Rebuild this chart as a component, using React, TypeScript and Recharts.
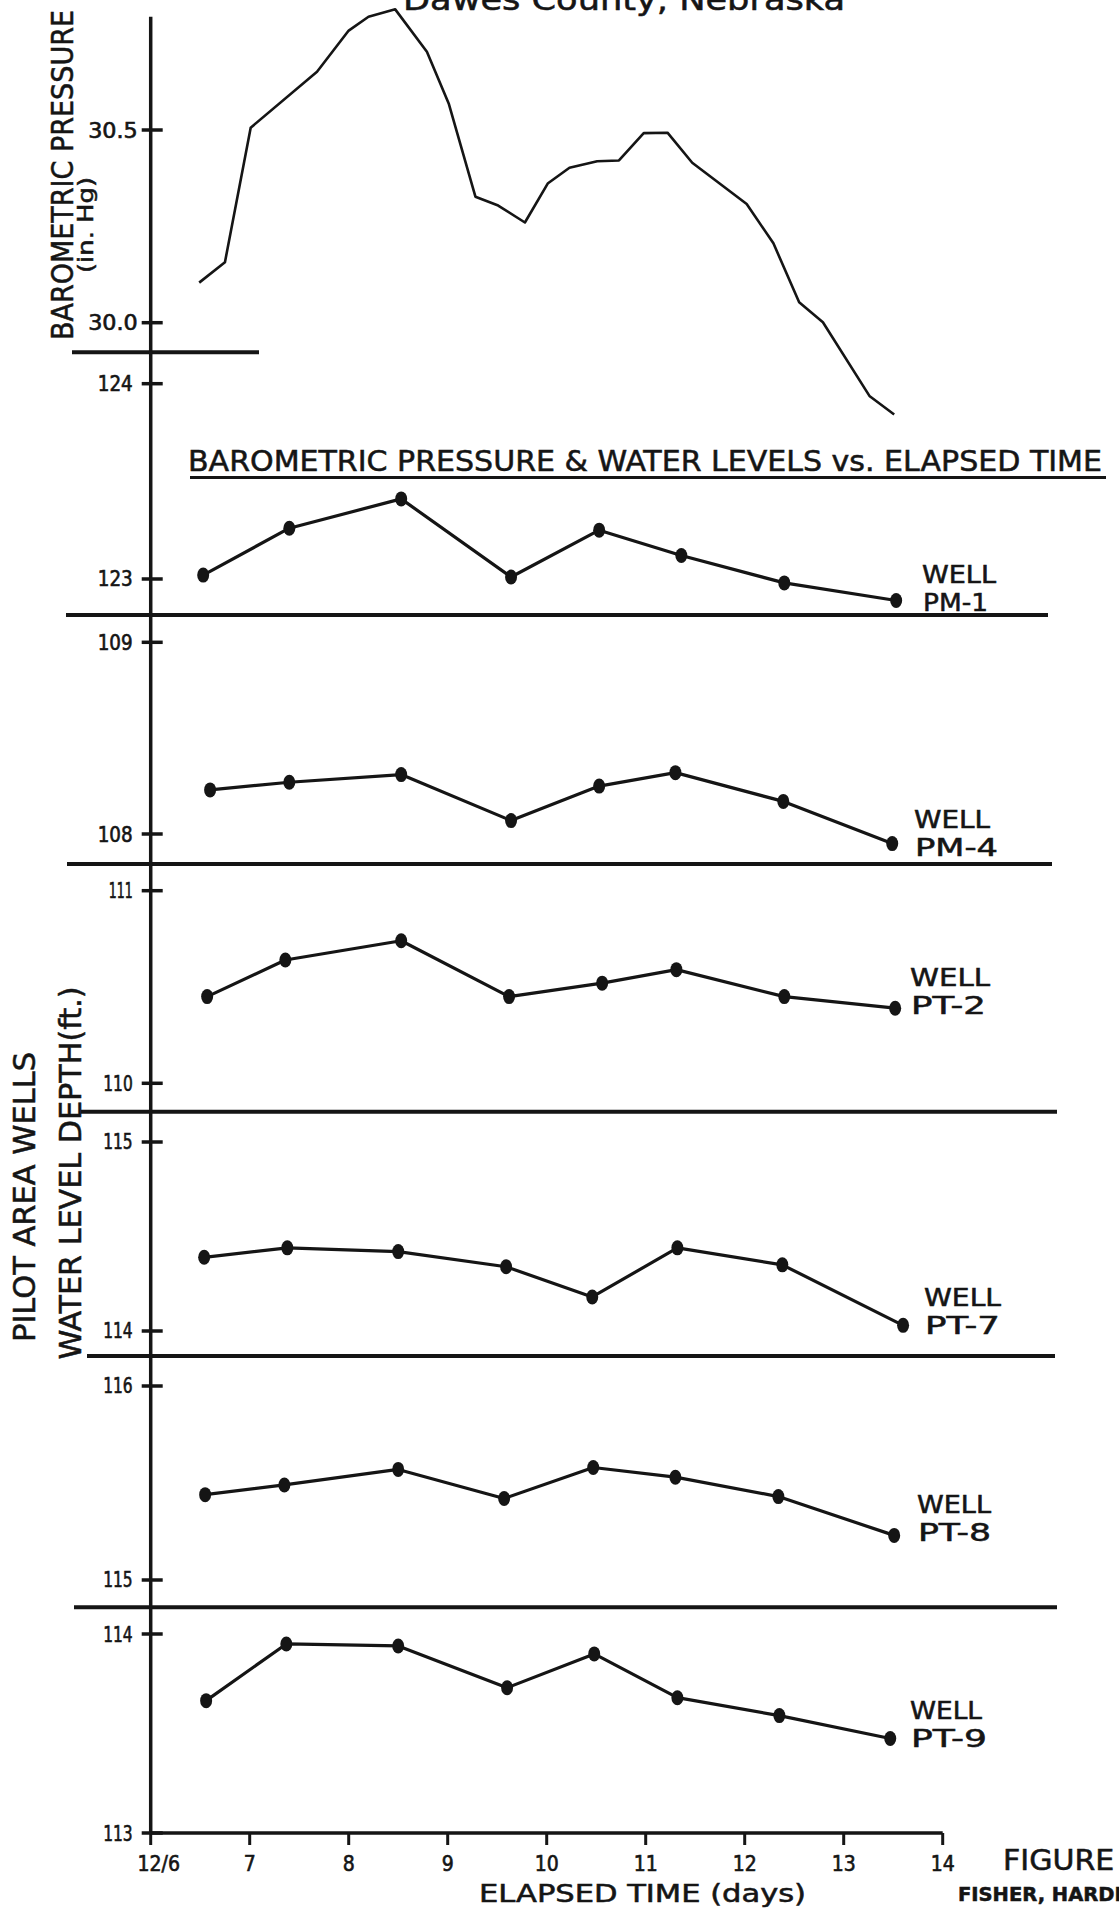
import React from 'react'
import { LineChart, Line, XAxis, YAxis, ReferenceLine } from 'recharts'

// elapsed time is in days, 12/6 = day 6
const dayTicks = [6, 7, 8, 9, 10, 11, 12, 13, 14]

// barometric pressure (in. Hg)
const pressureDays = [6.49, 6.75, 7.01, 7.68, 8.0, 8.2, 8.47, 8.79, 9.01, 9.28, 9.51, 9.78, 10.01, 10.23, 10.51, 10.73, 10.98, 11.22, 11.47, 12.02, 12.29, 12.55, 12.79, 13.26, 13.51]
const pressureInHg = [30.104, 30.157, 30.506, 30.651, 30.758, 30.794, 30.813, 30.703, 30.569, 30.327, 30.304, 30.26, 30.361, 30.402, 30.419, 30.421, 30.492, 30.493, 30.415, 30.308, 30.206, 30.053, 30.001, 29.81, 29.762]

// water level depth (ft) per well
const pm1Days = [6.53, 7.4, 8.53, 9.64, 10.53, 11.36, 12.4, 13.53]
const pm1Depth = [123.02, 123.26, 123.41, 123.01, 123.25, 123.12, 122.98, 122.89]
const pm4Days = [6.6, 7.4, 8.53, 9.64, 10.53, 11.3, 12.39, 13.49]
const pm4Depth = [108.23, 108.27, 108.31, 108.07, 108.25, 108.32, 108.17, 107.95]
const pt2Days = [6.57, 7.36, 8.53, 9.62, 10.56, 11.31, 12.4, 13.52]
const pt2Depth = [110.45, 110.64, 110.74, 110.45, 110.52, 110.59, 110.45, 110.39]
const pt7Days = [6.54, 7.38, 8.5, 9.59, 10.46, 11.32, 12.38, 13.6]
const pt7Depth = [114.39, 114.44, 114.42, 114.34, 114.18, 114.44, 114.35, 114.03]
const pt8Days = [6.55, 7.35, 8.5, 9.57, 10.47, 11.3, 12.34, 13.51]
const pt8Depth = [115.44, 115.49, 115.57, 115.42, 115.58, 115.53, 115.43, 115.23]
const pt9Days = [6.56, 7.37, 8.5, 9.6, 10.48, 11.32, 12.35, 13.47]
const pt9Depth = [113.665, 113.95, 113.94, 113.73, 113.9, 113.68, 113.59, 113.475]

const INK = '#151515'
const FONT = "'DejaVu Sans Condensed', 'DejaVu Sans', sans-serif"
const NUM_FONT = "'DejaVu Sans Condensed', 'DejaVu Sans', sans-serif"
const PAGE_W = 1119
const AXIS_X = 150.7
const PLOT_R = 942.7
const Y_AXIS_W = 60
const X_AXIS_H = 76

type Panel = {
  key: string
  days: number[]
  values: number[]
  ticks: [number, number]
  top: number
  bottom: number
  hiY: number
  loY: number
  well?: { name: string; x: number; y: number; w1: number; w2: number }
}

const panels: Panel[] = [
  { key: 'pressure', days: pressureDays, values: pressureInHg, ticks: [30.0, 30.5], top: 0, bottom: 440, hiY: 130, loY: 322.7 },
  { key: 'pm1', days: pm1Days, values: pm1Depth, ticks: [123, 124], top: 352.3, bottom: 615, hiY: 384, loY: 579.3,
    well: { name: 'PM-1', x: 922, y: 583, w1: 74, w2: 65 } },
  { key: 'pm4', days: pm4Days, values: pm4Depth, ticks: [108, 109], top: 615, bottom: 864, hiY: 642.3, loY: 834,
    well: { name: 'PM-4', x: 914, y: 828, w1: 76, w2: 83 } },
  { key: 'pt2', days: pt2Days, values: pt2Depth, ticks: [110, 111], top: 864, bottom: 1111.7, hiY: 890.7, loY: 1083.3,
    well: { name: 'PT-2', x: 910, y: 986, w1: 80, w2: 75 } },
  { key: 'pt7', days: pt7Days, values: pt7Depth, ticks: [114, 115], top: 1111.7, bottom: 1356, hiY: 1141.7, loY: 1330.7,
    well: { name: 'PT-7', x: 924, y: 1306, w1: 77, w2: 75 } },
  { key: 'pt8', days: pt8Days, values: pt8Depth, ticks: [115, 116], top: 1356, bottom: 1607.3, hiY: 1386, loY: 1580,
    well: { name: 'PT-8', x: 917, y: 1513, w1: 74, w2: 73 } },
  { key: 'pt9', days: pt9Days, values: pt9Depth, ticks: [113, 114], top: 1607.3, bottom: 1833.3, hiY: 1634.3, loY: 1833.3,
    well: { name: 'PT-9', x: 910, y: 1719, w1: 72, w2: 76 } },
]

const separators = [
  { y: 352.3, x1: 72, x2: 259 },
  { y: 615, x1: 66, x2: 1048 },
  { y: 864, x1: 67, x2: 1052 },
  { y: 1111.7, x1: 81, x2: 1057 },
  { y: 1356, x1: 87, x2: 1055 },
  { y: 1607.3, x1: 74, x2: 1057 },
]

const charW = (c: string) => (c === '1' ? 8 : c === '.' ? 9 : 13.5)

function YTick(props: any) {
  const { x, y, payload, decimals } = props
  const label = decimals ? Number(payload.value).toFixed(1) : String(payload.value)
  const w = label.split('').reduce((s: number, c: string) => s + charW(c), 0)
  return (
    <g>
      <line x1={x - 9} x2={x + 12} y1={y} y2={y} stroke={INK} strokeWidth={3.5} />
      <text
        x={x - (decimals ? 13 : 18)}
        y={y + 7.5}
        textAnchor="end"
        fontFamily={NUM_FONT}
        fontSize={21}
        fill={INK}
        stroke={INK}
        strokeWidth={0.6}
        textLength={w}
        lengthAdjust="spacingAndGlyphs"
      >
        {label}
      </text>
    </g>
  )
}

function XTick(props: any) {
  const { x, y, payload } = props
  const v = payload.value
  const label = v === 6 ? '12/6' : String(v)
  return (
    <text
      x={x + (v === 6 ? 8 : 0)}
      y={y + 24}
      textAnchor="middle"
      fontFamily={NUM_FONT}
      fontSize={21}
      fill={INK}
      stroke={INK}
      strokeWidth={0.6}
    >
      {label}
    </text>
  )
}

const wellDot = (p: any) => <ellipse key={`dot-${p.index}`} cx={p.cx} cy={p.cy} rx={6} ry={7.5} fill={INK} />

function PanelChart({ p, last }: { p: Panel; last: boolean }) {
  const rows = p.days.map((day, i) => ({ day, value: p.values[i] }))
  const scale = (p.loY - p.hiY) / (p.ticks[1] - p.ticks[0])
  const domHi = p.ticks[1] + (p.hiY - p.top) / scale
  const domLo = p.ticks[0] - (p.bottom - p.loY) / scale
  const valueAt = (px: number) => domHi - (px - p.top) / scale
  const isPressure = p.key === 'pressure'
  const plotH = p.bottom - p.top
  const h = plotH + (last ? X_AXIS_H : 0)

  return (
    <div style={{ position: 'absolute', left: 0, top: p.top, width: PAGE_W, height: h }}>
      <LineChart
        width={PAGE_W}
        height={h}
        data={rows}
        margin={{ top: 0, right: PAGE_W - PLOT_R, bottom: 0, left: AXIS_X - Y_AXIS_W }}
      >
        <XAxis
          type="number"
          dataKey="day"
          domain={[6, 14]}
          ticks={dayTicks}
          interval={0}
          hide={!last}
          height={last ? X_AXIS_H : 0}
          axisLine={{ stroke: INK, strokeWidth: 3.5 }}
          tickLine={{ stroke: INK, strokeWidth: 3 }}
          tickSize={12}
          tickMargin={2}
          tick={<XTick />}
        />
        <YAxis
          type="number"
          domain={[domLo, domHi]}
          ticks={p.ticks}
          interval={0}
          width={Y_AXIS_W}
          axisLine={isPressure ? false : { stroke: INK, strokeWidth: 3.5 }}
          tickLine={false}
          tickSize={0}
          tickMargin={0}
          tick={<YTick decimals={isPressure} />}
        />
        {isPressure && (
          <ReferenceLine
            segment={[{ x: 6, y: valueAt(16.7) }, { x: 6, y: valueAt(352.3) }]}
            stroke={INK}
            strokeWidth={3.5}
          />
        )}
        <Line
          type="linear"
          dataKey="value"
          stroke={INK}
          strokeWidth={isPressure ? 2.6 : 3.2}
          strokeLinejoin="round"
          dot={isPressure ? false : wellDot}
          activeDot={false}
          isAnimationActive={false}
        />
      </LineChart>
    </div>
  )
}

function Overlay() {
  const txt = { fontFamily: FONT, fill: INK, stroke: INK, strokeWidth: 0.5 }
  return (
    <svg width={PAGE_W} height={1910} style={{ position: 'absolute', left: 0, top: 0 }}>
      <text x={403} y={9.5} fontSize={30} textLength={442} lengthAdjust="spacingAndGlyphs" {...txt}>
        Dawes County, Nebraska
      </text>
      <text x={188} y={471} fontSize={29} textLength={914} lengthAdjust="spacingAndGlyphs" {...txt}>
        BAROMETRIC PRESSURE &amp; WATER LEVELS vs. ELAPSED TIME
      </text>
      <line x1={190} x2={1106} y1={477.5} y2={477.5} stroke={INK} strokeWidth={3} />

      {separators.map((s, i) => (
        <line key={i} x1={s.x1} x2={s.x2} y1={s.y} y2={s.y} stroke={INK} strokeWidth={4} />
      ))}

      <text transform="translate(73 175) rotate(-90)" textAnchor="middle" fontSize={30} textLength={330} lengthAdjust="spacingAndGlyphs" {...txt}>
        BAROMETRIC PRESSURE
      </text>
      <text transform="translate(93 225) rotate(-90)" textAnchor="middle" fontSize={22} textLength={96} lengthAdjust="spacingAndGlyphs" {...txt}>
        (in. Hg)
      </text>
      <text transform="translate(35 1197) rotate(-90)" textAnchor="middle" fontSize={30} textLength={290} lengthAdjust="spacingAndGlyphs" {...txt}>
        PILOT AREA WELLS
      </text>
      <text transform="translate(81 1173) rotate(-90)" textAnchor="middle" fontSize={30} textLength={373} lengthAdjust="spacingAndGlyphs" {...txt}>
        WATER LEVEL DEPTH(ft.)
      </text>

      {panels.filter((p) => p.well).map((p) => (
        <g key={p.key}>
          <text x={p.well!.x} y={p.well!.y} fontSize={25} textLength={p.well!.w1} lengthAdjust="spacingAndGlyphs" {...txt}>
            WELL
          </text>
          <text x={p.well!.x + 1} y={p.well!.y + 28} fontSize={25} textLength={p.well!.w2} lengthAdjust="spacingAndGlyphs" {...txt}>
            {p.well!.name}
          </text>
        </g>
      ))}

      <text x={479} y={1902} fontSize={24} textLength={327} lengthAdjust="spacingAndGlyphs" {...txt}>
        ELAPSED TIME (days)
      </text>
      <text x={1003} y={1870} fontSize={28} textLength={140} lengthAdjust="spacingAndGlyphs" {...txt}>
        FIGURE 2
      </text>
      <text x={958} y={1901} fontSize={19} fontWeight="bold" textLength={196} lengthAdjust="spacingAndGlyphs" {...txt}>
        FISHER, HARDING
      </text>
    </svg>
  )
}

export default function App() {
  return (
    <div style={{ position: 'absolute', left: 0, top: 0, width: PAGE_W, height: 1910, background: '#fff', overflow: 'hidden' }}>
      <Overlay />
      {panels.map((p, i) => (
        <PanelChart key={p.key} p={p} last={i === panels.length - 1} />
      ))}
    </div>
  )
}
